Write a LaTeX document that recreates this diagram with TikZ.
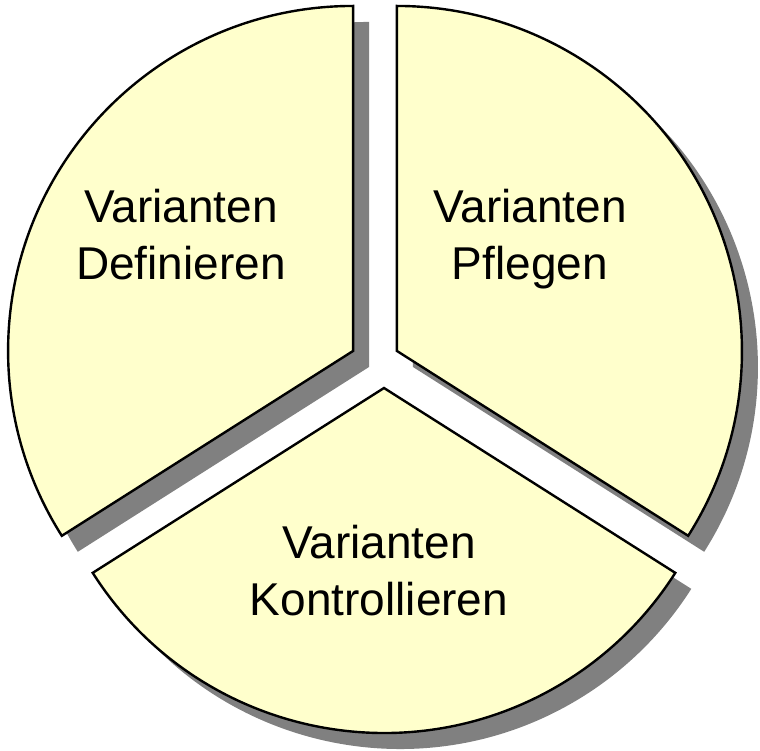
\documentclass[tikz,border=0pt]{standalone}
\usepackage{fontspec}
\setmainfont{Liberation Sans}
\usepackage{tikz}
\usetikzlibrary{calc}
\usepackage{xcolor}
\definecolor{piefill}{HTML}{FFFFCC}
\definecolor{pieshadow}{HTML}{808080}

\begin{document}
\begin{tikzpicture}[
    x=1pt, y=1pt,
    sector/.style={draw=black, line width=2.4pt, fill=piefill, line join=miter},
    shade/.style={fill=pieshadow},
    label/.style={align=center, anchor=base, inner sep=0pt, font=\fontsize{46}{57}\selectfont}
]
\useasboundingbox (0,0) rectangle (760,750);
\coordinate (C) at (375,387);
\coordinate (PL) at ($(C)+(151.2:25)$);
\coordinate (PR) at ($(C)+(28.8:25)$);
\coordinate (PB) at (384,362);

% shadows
\fill[shade] ($(PL)+(16,-16)$) -- ++(90:345) arc[start angle=90, end angle=212.4, radius=345] -- cycle;
\fill[shade] ($(PR)+(16,-16)$) -- ++(-32.4:345) arc[start angle=-32.4, end angle=90, radius=345] -- cycle;
\fill[shade] ($(PB)+(16,-16)$) -- ++(212.4:345) arc[start angle=212.4, end angle=327.6, radius=345] -- cycle;

% sectors
\draw[sector] (PL) -- ++(90:345) arc[start angle=90, end angle=212.4, radius=345] -- cycle;
\draw[sector] (PR) -- ++(-32.4:345) arc[start angle=-32.4, end angle=90, radius=345] -- cycle;
\draw[sector] (PB) -- ++(212.4:345) arc[start angle=212.4, end angle=327.6, radius=345] -- cycle;

\node[label] (define) at (181,470) {Varianten\\Definieren};
\node[label] (maintain) at (530,470) {Varianten\\Pflegen};
\node[label] (control) at (379,135) {Varianten\\Kontrollieren};
\end{tikzpicture}
\end{document}
